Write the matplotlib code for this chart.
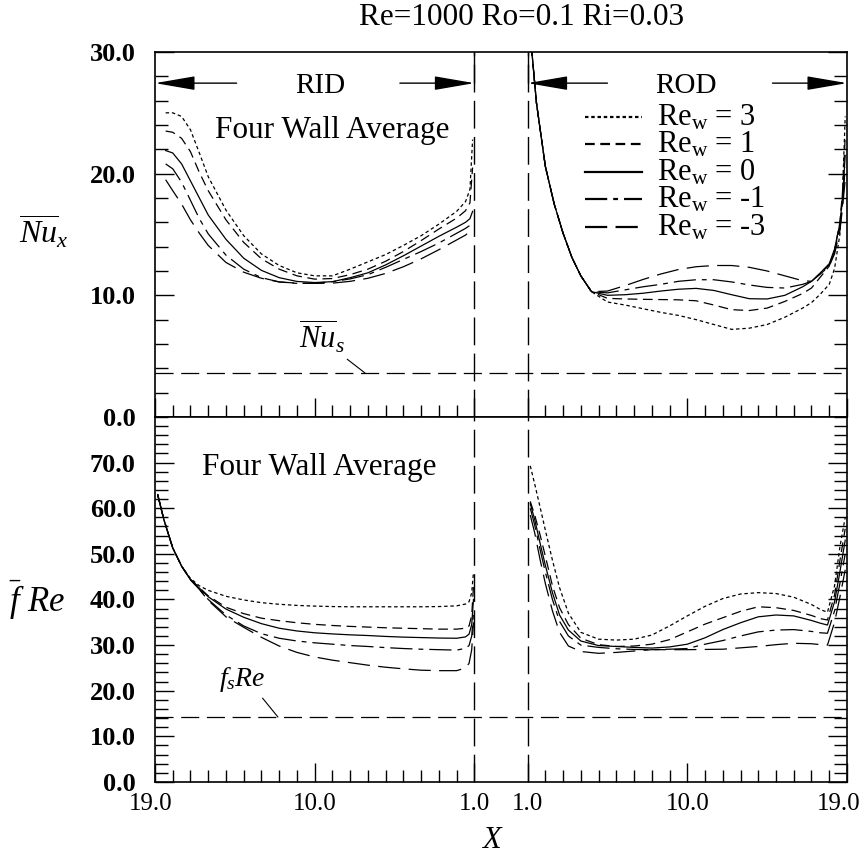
#!/usr/bin/env python3
"""Four-wall average Nu and fRe along the rotating duct, RID and ROD legs.

Re=1000 Ro=0.1 Ri=0.03, five wall-suction Reynolds numbers.
Axis runs X = 19 -> 1 on the RID leg, then X = 1 -> 19 on the ROD leg.
"""

import matplotlib
matplotlib.use('Agg')
import matplotlib.pyplot as plt
import matplotlib.transforms as mtransforms
from matplotlib.ticker import FixedLocator, MultipleLocator
import numpy as np

plt.rcParams['font.family'] = 'Liberation Serif'
plt.rcParams['mathtext.fontset'] = 'custom'
plt.rcParams['mathtext.rm'] = 'Liberation Serif'
plt.rcParams['mathtext.it'] = 'Liberation Serif:italic'
plt.rcParams['mathtext.bf'] = 'Liberation Serif:bold'
plt.rcParams['lines.scale_dashes'] = False

REW_LABELS = ['3', '1', '0', '-1', '-3']

# ─── Nu, RID leg ───
X_NU_RID = [18.4, 18.0, 17.5, 17.0, 16.5, 16.0, 15.0, 14.0, 13.0, 12.0, 11.0,
            10.0, 9.0, 8.0, 7.0, 6.0, 5.0, 4.0, 3.0, 2.0, 1.5, 1.25, 1.1]
NU_RID_P3 = [25.0, 25.0, 24.7, 23.6, 21.7, 19.75, 17.0, 14.9, 13.4, 12.45, 11.85,
             11.6, 11.6, 12.15, 12.75, 13.35, 14.1, 14.9, 15.85, 16.9, 17.7, 18.7, 22.8]
NU_RID_P1 = [23.5, 23.4, 22.9, 21.8, 20.1, 18.6, 16.2, 14.35, 13.0, 12.15, 11.6,
             11.33, 11.38, 11.7, 12.15, 12.8, 13.6, 14.5, 15.45, 16.35, 16.95, 17.6, 20.5]
NU_RID_0 = [21.9, 21.7, 20.8, 19.4, 18.0, 16.6, 14.6, 13.05, 12.05, 11.45, 11.14,
            11.05, 11.12, 11.45, 11.85, 12.5, 13.25, 14.05, 14.85, 15.6, 16.0, 16.3, 16.9]
NU_RID_M1 = [20.8, 20.4, 19.3, 17.8, 16.3, 15.05, 13.3, 12.15, 11.45, 11.1, 10.98,
             11.0, 11.12, 11.35, 11.7, 12.3, 12.95, 13.6, 14.3, 15.1, 15.5, 15.75, 15.95]
NU_RID_M3 = [19.5, 18.6, 17.5, 16.2, 15.1, 14.1, 12.7, 11.9, 11.4, 11.1, 11.0,
             10.98, 11.0, 11.15, 11.4, 11.8, 12.35, 13.0, 13.75, 14.55, 14.95, 15.25, 15.45]

# ─── Nu, ROD leg (all five share the entrance drop up to X=4.6) ───
X_NU_ROD = [1.15, 1.5, 2.0, 2.5, 3.0, 3.5, 4.0, 4.6, 5.5, 6.5, 7.5, 8.5, 9.5,
            10.5, 11.5, 12.5, 13.5, 14.5, 15.5, 16.5, 17.0, 17.5, 18.0, 18.3,
            18.6, 18.75, 18.9]
NU_ROD_SHARED = [31.5, 25.8, 20.6, 17.5, 15.1, 13.1, 11.6, 10.3]
NU_ROD_P3 = [9.45, 9.2, 8.9, 8.6, 8.35, 8.0, 7.6, 7.2, 7.3, 7.6, 8.2, 8.95,
             9.4, 10.1, 10.9, 12.2, 15.0, 18.5, 24.7]
NU_ROD_P1 = [9.75, 9.7, 9.67, 9.65, 9.63, 9.55, 9.2, 8.82, 8.75, 8.95, 9.5, 10.15,
             10.6, 11.5, 12.4, 13.7, 16.0, 18.5, 23.0]
NU_ROD_0 = [10.0, 10.05, 10.17, 10.35, 10.5, 10.57, 10.4, 10.05, 9.72, 9.7, 10.0, 10.7,
            11.15, 11.85, 12.6, 13.8, 15.9, 18.0, 21.5]
NU_ROD_M1 = [10.2, 10.45, 10.7, 10.9, 11.15, 11.28, 11.28, 11.1, 10.85, 10.65, 10.6, 10.9,
             11.15, 11.8, 12.5, 13.6, 15.6, 17.6, 20.5]
NU_ROD_M3 = [10.35, 10.8, 11.3, 11.75, 12.12, 12.35, 12.45, 12.45, 12.3, 12.0, 11.6, 11.2,
             11.15, 11.75, 12.4, 13.4, 15.3, 17.2, 19.5]

# ─── fRe, RID leg (shared start up to X=17.5) ───
X_FRE_RID = [18.85, 18.5, 18.0, 17.5, 17.0, 16.5, 16.0, 15.0, 14.0, 13.0, 12.0,
             11.0, 10.0, 9.0, 8.0, 7.0, 6.0, 5.0, 4.0, 3.0, 2.0, 1.5, 1.3, 1.15, 1.05]
FRE_RID_SHARED = [63.0, 57.5, 51.3, 47.3]
FRE_RID_P3 = [44.6, 43.0, 42.0, 40.7, 39.9, 39.3, 38.95, 38.7, 38.55, 38.45, 38.4,
              38.4, 38.4, 38.4, 38.4, 38.45, 38.6, 39.0, 39.5, 41.5, 46.0]
FRE_RID_P1 = [44.4, 42.6, 40.8, 38.3, 36.9, 35.9, 35.35, 34.9, 34.55, 34.3, 34.1,
              33.95, 33.8, 33.7, 33.6, 33.5, 33.5, 33.7, 34.2, 36.5, 43.0]
FRE_RID_0 = [44.4, 42.5, 40.6, 37.9, 36.1, 34.7, 33.7, 33.1, 32.7, 32.45, 32.25,
             32.1, 31.9, 31.75, 31.65, 31.55, 31.5, 31.8, 32.4, 34.5, 40.0]
FRE_RID_M1 = [44.3, 42.3, 40.0, 36.6, 34.2, 32.5, 31.5, 30.9, 30.5, 30.2, 29.9,
              29.7, 29.45, 29.25, 29.1, 29.0, 28.9, 29.3, 29.9, 32.0, 37.0]
FRE_RID_M3 = [44.3, 42.2, 39.8, 36.2, 33.9, 31.7, 29.8, 28.4, 27.4, 26.7, 26.15,
              25.6, 25.15, 24.8, 24.5, 24.4, 24.4, 25.0, 26.0, 29.0, 35.0]

# ─── fRe, ROD leg ───
X_FRE_ROD = [1.15, 1.4, 1.7, 2.0, 2.4, 2.8, 3.3, 4.0, 5.0, 6.0, 7.0, 8.0, 9.0,
             10.0, 11.0, 12.0, 13.0, 14.0, 15.0, 16.0, 17.0, 17.5, 17.9, 18.3, 18.6, 18.9]
FRE_ROD_P3 = [69.3, 65.3, 60.3, 55.2, 48.6, 42.6, 37.0, 32.8, 31.3, 31.1, 31.3, 32.2, 34.2,
              36.4, 38.5, 40.2, 41.2, 41.5, 41.3, 40.5, 38.9, 37.8, 37.2, 43.0, 51.5, 58.0]
FRE_ROD_P1 = [61.5, 58.5, 54.2, 49.5, 43.0, 38.2, 34.5, 31.5, 30.1, 29.7, 29.8, 30.2, 31.2,
              32.9, 34.6, 36.0, 37.4, 38.4, 38.2, 37.6, 36.5, 35.8, 35.5, 41.0, 48.5, 55.5]
FRE_ROD_0 = [61.0, 57.5, 52.4, 47.5, 41.5, 36.6, 33.3, 30.9, 29.9, 29.7, 29.5, 29.35, 29.6,
             30.2, 31.6, 33.4, 34.9, 36.2, 36.6, 36.4, 35.4, 34.8, 34.4, 39.5, 46.0, 53.0]
FRE_ROD_M1 = [60.0, 56.3, 51.0, 46.0, 40.0, 35.2, 32.0, 30.0, 29.5, 29.2, 29.05, 29.0, 29.1,
              29.25, 30.2, 31.0, 32.0, 32.9, 33.3, 33.4, 33.0, 32.7, 32.6, 37.5, 43.5, 50.0]
FRE_ROD_M3 = [58.5, 54.6, 48.8, 43.5, 37.5, 32.8, 29.8, 28.6, 28.2, 28.4, 28.7, 29.0, 29.0,
              29.0, 29.05, 29.1, 29.4, 29.7, 30.1, 30.4, 30.3, 30.1, 30.0, 35.0, 40.5, 46.5]

# straight-duct reference values
NU_S = 3.61
FRE_S = 14.23

TOP_YTICKS = [0, 10, 20, 30]
BOT_YTICKS = [0, 10, 20, 30, 40, 50, 60, 70]
X_TICK_VALUES = [19.0, 10.0, 1.0, 1.0, 10.0, 19.0]


# RID leg counts down from 19 to 1, then a gap, then ROD counts up 1 to 19
def pos_rid(x):
    return 19.0 - np.asarray(x, dtype=float)


def pos_rod(x):
    return 20.0 + np.asarray(x, dtype=float)


LINESTYLES = [(0, (2.5, 2.0)), (0, (7.0, 4.0)), '-',
              (0, (16.0, 4.3, 3.5, 4.3)), (0, (16.0, 6.0))]

nu_rid = [NU_RID_P3, NU_RID_P1, NU_RID_0, NU_RID_M1, NU_RID_M3]
nu_rod = [NU_ROD_SHARED + s for s in (NU_ROD_P3, NU_ROD_P1, NU_ROD_0, NU_ROD_M1, NU_ROD_M3)]
fre_rid = [FRE_RID_SHARED + s for s in (FRE_RID_P3, FRE_RID_P1, FRE_RID_0, FRE_RID_M1, FRE_RID_M3)]
fre_rod = [FRE_ROD_P3, FRE_ROD_P1, FRE_ROD_0, FRE_ROD_M1, FRE_ROD_M3]

fig = plt.figure(figsize=(8.64, 8.55), dpi=100)
fig.patch.set_facecolor('white')
ax_top = fig.add_axes([0.1794, 0.5123, 0.8009, 0.4269])
ax_bot = fig.add_axes([0.1794, 0.0854, 0.8009, 0.4269])

# ─── Curves ───
for i, ls in enumerate(LINESTYLES):
    ax_top.plot(pos_rid(X_NU_RID), nu_rid[i], color='k', lw=0.9, linestyle=ls)
    ax_top.plot(pos_rod(X_NU_ROD), nu_rod[i], color='k', lw=0.9, linestyle=ls)
    ax_bot.plot(pos_rid(X_FRE_RID), fre_rid[i], color='k', lw=0.9, linestyle=ls)
    ax_bot.plot(pos_rod(X_FRE_ROD), fre_rod[i], color='k', lw=0.9, linestyle=ls)

ax_top.axhline(NU_S, color='k', lw=0.9, linestyle=(0, (13, 5.5)))
ax_bot.axhline(FRE_S, color='k', lw=0.9, linestyle=(0, (13, 5.5)))

# X = 1 boundaries on both legs
for ax in (ax_top, ax_bot):
    for xb in (pos_rid(1.0), pos_rod(1.0)):
        ax.axvline(xb, color='k', lw=1.0, linestyle=(0, (20, 6)))

# ─── Axes styling ───
x_major = [float(pos_rid(19)), float(pos_rid(10)), float(pos_rid(1)),
           float(pos_rod(1)), float(pos_rod(10)), float(pos_rod(19))]
x_minor = [float(pos_rid(v)) for v in range(1, 20)] + [float(pos_rod(v)) for v in range(1, 20)]
x_minor = [p for p in x_minor if p not in x_major]

for ax, ymax, yt in ((ax_top, 30, TOP_YTICKS), (ax_bot, 80, BOT_YTICKS)):
    ax.set_xlim(0, 39)
    ax.set_ylim(0, ymax)
    ax.xaxis.set_major_locator(FixedLocator(x_major))
    ax.xaxis.set_minor_locator(FixedLocator(x_minor))
    ax.set_yticks(yt, labels=['{:.1f}'.format(v) for v in yt], fontweight='bold')
    ax.yaxis.set_minor_locator(MultipleLocator(2))
    ax.tick_params(axis='both', which='both', direction='in', top=False,
                   right=True, width=1.0)
    ax.tick_params(axis='y', which='major', length=14, pad=14, labelsize=19)
    ax.tick_params(axis='y', which='minor', length=9.5)
    ax.tick_params(axis='x', which='major', length=14, pad=8, labelsize=18)
    ax.tick_params(axis='x', which='minor', length=9)
    for sp in ax.spines.values():
        sp.set_linewidth(1.2)

ax_top.tick_params(axis='x', labelbottom=False)
ax_bot.set_xticklabels(['{:.1f}'.format(v) for v in X_TICK_VALUES])

# nudge the two end labels inward a little, as in the original
xlabels = ax_bot.get_xticklabels()
for lbl, dx in ((xlabels[0], -4), (xlabels[-1], -8)):
    lbl.set_transform(lbl.get_transform() +
                      mtransforms.ScaledTranslation(dx / 100, 0, fig.dpi_scale_trans))

ax_top.set_ylabel(r'$\overline{Nu}_x$', rotation=0, fontsize=23, ha='center', va='center')
ax_top.yaxis.set_label_coords(-0.160, 0.507)
ax_bot.set_ylabel(r'$\bar{f}\ Re$', rotation=0, fontsize=25, ha='center', va='center')
ax_bot.yaxis.set_label_coords(-0.171, 0.499)
ax_bot.set_xlabel(r'$X$', fontsize=22, va='center')
ax_bot.xaxis.set_label_coords(0.488, -0.160)

# ─── Annotations ───
ARROW_Y = 27.44
arrow_kw = dict(arrowstyle='-|>,head_length=2.5,head_width=0.43', color='k',
                lw=1.0, shrinkA=0, shrinkB=0, mutation_scale=10)
for tail, tip in ((4.6, 0.0), (13.8, 18.0), (25.5, 21.0), (34.8, 39.0)):
    ax_top.annotate('', xy=(tip, ARROW_Y), xytext=(tail, ARROW_Y), arrowprops=arrow_kw)
ax_top.vlines([18.0, 21.0], ARROW_Y, 30, colors='k', lw=1.0)
ax_top.text(9.3, 26.6, 'RID', fontsize=21, ha='center', va='baseline')
ax_top.text(29.93, 26.6, 'ROD', fontsize=21, ha='center', va='baseline')

ax_top.text(3.38, 22.9, 'Four Wall Average', fontsize=22.5, ha='left', va='baseline')
ax_bot.text(2.63, 67.3, 'Four Wall Average', fontsize=22.5, ha='left', va='baseline')

ax_top.annotate(r'$\overline{Nu}_s$', xy=(11.84, NU_S), xytext=(9.41, 6.57),
                fontsize=22, ha='center', va='center',
                arrowprops=dict(arrowstyle='-', lw=0.8, color='k',
                                relpos=(0.95, 0.0), shrinkA=1, shrinkB=0))
ax_bot.annotate(r'$f_sRe$', xy=(6.93, FRE_S), xytext=(4.9, 22.4),
                fontsize=20, ha='center', va='center',
                arrowprops=dict(arrowstyle='-', lw=0.8, color='k',
                                relpos=(0.85, 0.05), shrinkA=1, shrinkB=0))

# ─── Legend (drawn by hand to get the tight row spacing) ───
for i, ls in enumerate(LINESTYLES):
    y = 0.8227 - i * 0.0753
    ax_top.plot([0.6214, 0.7038], [y, y], transform=ax_top.transAxes, color='k',
                lw=1.6, linestyle=ls)
    ax_top.text(0.7254, y - 0.0233, r'Re$_{\mathrm{w}}$ = ' + REW_LABELS[i],
                transform=ax_top.transAxes, fontsize=22, ha='left', va='baseline')

fig.text(0.604, 0.979, 'Re=1000 Ro=0.1 Ri=0.03', fontsize=22.5, ha='center', va='center')

fig.savefig('out.png', dpi=100, facecolor='white')
print('Saved: out.png')
